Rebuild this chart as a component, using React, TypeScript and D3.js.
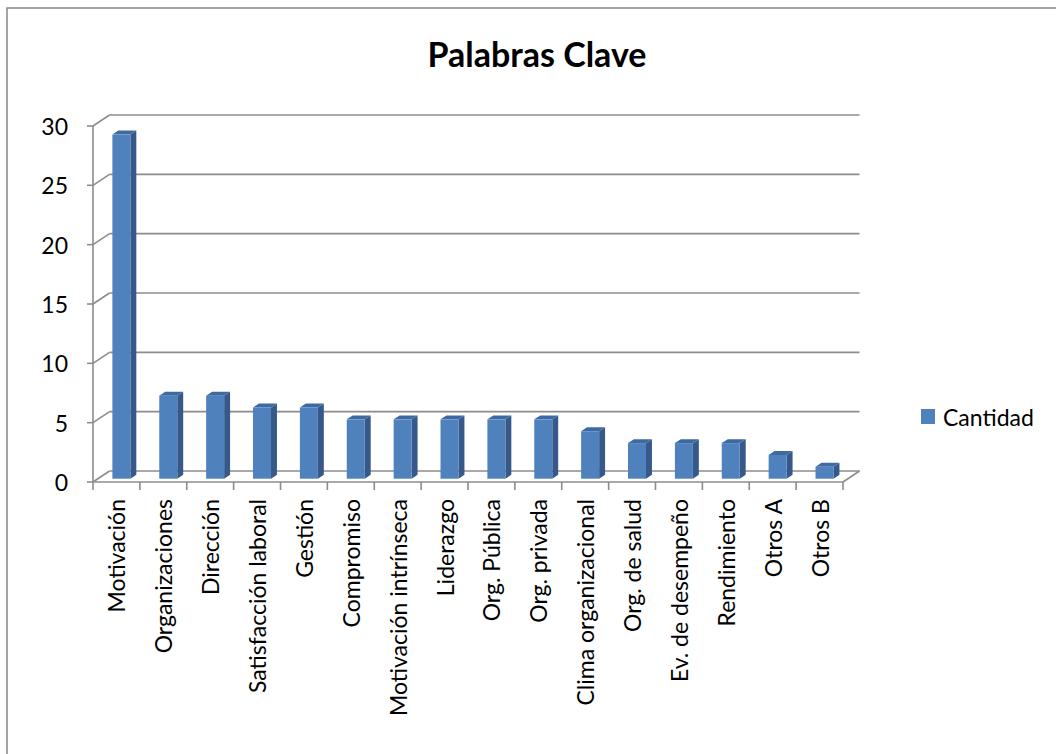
import React from 'react';
import * as d3 from 'd3';

const categories = [
  'Motivación', 'Organizaciones', 'Dirección', 'Satisfacción laboral', 'Gestión',
  'Compromiso', 'Motivación intrínseca', 'Liderazgo', 'Org. Pública', 'Org. privada',
  'Clima organizacional', 'Org. de salud', 'Ev. de desempeño', 'Rendimiento', 'Otros A', 'Otros B',
];
const cantidad = [29, 7, 7, 6, 6, 5, 5, 5, 5, 5, 4, 3, 3, 3, 2, 1];
const yTicks = [0, 5, 10, 15, 20, 25, 30];
const seriesName = 'Cantidad';
const title = 'Palabras Clave';

const W = 1056;
const H = 754;
// depth of the 3D box
const DX = 16.5;
const DY = -11;
// where the bars sit inside the depth
const F0 = 0.3;
const F1 = 0.66;
const FONT = 'Lato, "Open Sans", sans-serif';

const App = () => {
  const x = d3.scaleBand<string>().domain(categories).range([93, 843]);
  const y = d3.scaleLinear().domain([0, 30]).range([482, 126]);
  const barW = 18;
  const grid = '#8c8c8c';

  const sdx = DX * (F1 - F0);
  const sdy = DY * (F1 - F0);

  return (
    <svg width={W} height={H} style={{ position: 'fixed', left: 0, top: 0, background: '#fff' }}>
      <rect x={7} y={8} width={W + 10} height={H + 10} fill="#fff" stroke="#878787" strokeWidth={1.5} />

      <text x={537} y={67} textAnchor="middle" fontFamily={FONT} fontWeight="bold" fontSize={34}>
        {title}
      </text>

      {/* back wall gridlines and left wall diagonals */}
      {yTicks.map((t) => (
        <g key={t}>
          <line x1={93 + DX} x2={843 + DX} y1={y(t) + DY} y2={y(t) + DY} stroke={grid} strokeWidth={1.6} />
          <line x1={93} x2={93 + DX} y1={y(t)} y2={y(t) + DY} stroke={grid} strokeWidth={1.6} />
          <line x1={87} x2={93} y1={y(t)} y2={y(t)} stroke={grid} strokeWidth={1.6} />
          <text x={68} y={y(t)} textAnchor="end" dominantBaseline="central" fontFamily={FONT} fontSize={23}>
            {t}
          </text>
        </g>
      ))}
      {/* floor */}
      <line x1={843} x2={843 + DX} y1={y(0)} y2={y(0) + DY} stroke={grid} strokeWidth={1.6} />
      <line x1={93} x2={93} y1={y(30)} y2={y(0)} stroke={grid} strokeWidth={1.6} />
      <line x1={93} x2={843} y1={y(0)} y2={y(0)} stroke={grid} strokeWidth={1.6} />
      {x.domain().concat(['__end']).map((c, i) => {
        const xx = i < categories.length ? (x(c) as number) : 843;
        return <line key={c} x1={xx} x2={xx} y1={y(0)} y2={y(0) + 8} stroke={grid} strokeWidth={1.6} />;
      })}

      {/* bars */}
      {categories.map((c, i) => {
        const cx = (x(c) as number) + x.bandwidth() / 2 + DX * F0;
        const L = cx - barW / 2;
        const R = cx + barW / 2;
        const yb = y(0) + DY * F0;
        const yt = y(cantidad[i]) + DY * F0;
        return (
          <g key={c}>
            <polygon
              points={`${R},${yb} ${R + sdx},${yb + sdy} ${R + sdx},${yt + sdy} ${R},${yt}`}
              fill="#36598a"
            />
            <polygon
              points={`${L},${yt} ${R},${yt} ${R + sdx},${yt + sdy} ${L + sdx},${yt + sdy}`}
              fill="#3e6aa3"
            />
            <rect x={L} y={yt} width={barW} height={yb - yt} fill="#4f81bd" />
          </g>
        );
      })}

      {/* category labels */}
      {categories.map((c) => {
        const cx = (x(c) as number) + x.bandwidth() / 2;
        return (
          <text
            key={c}
            transform={`translate(${cx},499) rotate(-90)`}
            textAnchor="end"
            dominantBaseline="central"
            fontFamily={FONT}
            fontSize={23}
          >
            {c}
          </text>
        );
      })}

      {/* legend */}
      <rect x={921} y={409} width={14} height={15} fill="#4f81bd" />
      <text x={943} y={417} dominantBaseline="central" fontFamily={FONT} fontSize={23}>
        {seriesName}
      </text>
    </svg>
  );
};

export default App;
